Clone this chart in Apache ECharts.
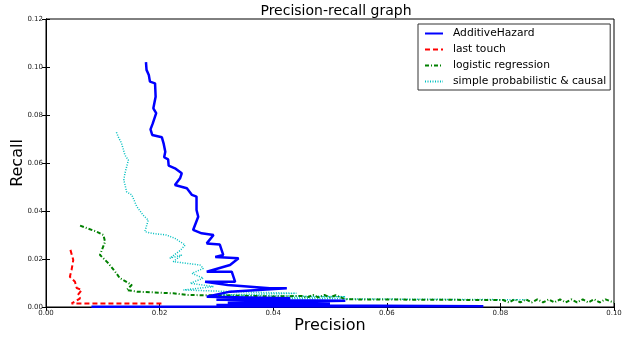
<!DOCTYPE html>
<html>
<head>
<meta charset="utf-8">
<script src="https://cdn.jsdelivr.net/npm/echarts@6/dist/echarts.min.js"></script>
<style>
html,body{margin:0;padding:0;background:#fff;}
#chart{width:636px;height:337px;}
</style>
</head>
<body>
<div id="chart"></div>
<script>
var seriesNames = ["AdditiveHazard", "last touch", "logistic regression", "simple probabilistic & causal"];
var xTicks = [0.00, 0.02, 0.04, 0.06, 0.08, 0.10];
var yTicks = [0.00, 0.02, 0.04, 0.06, 0.08, 0.10, 0.12];

// [precision, recall]
var additiveHazard = [
  [0.0176,0.1020],[0.0177,0.0988],[0.0181,0.0967],[0.0183,0.0939],[0.0192,0.0932],
  [0.0193,0.0876],[0.0189,0.0828],[0.0194,0.0808],[0.0188,0.0765],[0.0184,0.0740],
  [0.0187,0.0717],[0.0204,0.0707],[0.0207,0.0682],[0.0210,0.0647],[0.0208,0.0624],
  [0.0215,0.0615],[0.0216,0.0589],[0.0227,0.0578],[0.0239,0.0557],[0.0236,0.0536],
  [0.0227,0.0508],[0.0248,0.0495],[0.0257,0.0467],[0.0265,0.0460],[0.0265,0.0404],
  [0.0268,0.0376],[0.0259,0.0321],[0.0274,0.0307],[0.0295,0.0300],[0.0283,0.0265],
  [0.0306,0.0260],[0.0312,0.0217],[0.0298,0.0208],[0.0339,0.0203],[0.0324,0.0175],
  [0.0283,0.0147],[0.0327,0.0147],[0.0333,0.0105],[0.0280,0.0105],[0.0320,0.0092],
  [0.0394,0.0078],[0.0424,0.0078],[0.0324,0.0064],[0.0283,0.0043],[0.0430,0.0036],
  [0.0300,0.0030],[0.0527,0.0026],[0.0320,0.0018],[0.0500,0.0014],[0.0300,0.0008],
  [0.0770,0.0003],[0.0080,0.0001]
];
var lastTouch = [
  [0.0043,0.0238],[0.0048,0.0196],[0.0045,0.0154],[0.0042,0.0126],[0.0051,0.0105],
  [0.0054,0.0079],[0.0063,0.0071],[0.0056,0.0050],[0.0060,0.0036],[0.0051,0.0022],
  [0.0045,0.0015],[0.0206,0.0015]
];
var logisticRegression = [
  [0.0060,0.0339],[0.0089,0.0314],[0.0101,0.0300],[0.0104,0.0272],[0.0095,0.0217],
  [0.0110,0.0182],[0.0124,0.0140],[0.0130,0.0120],[0.0151,0.0092],[0.0142,0.0071],
  [0.0160,0.0064],[0.0224,0.0057],[0.0248,0.0050],[0.0320,0.0048],[0.0400,0.0044],
  [0.0450,0.0046],[0.0460,0.0040],[0.0470,0.0050],[0.0480,0.0040],[0.0490,0.0050],
  [0.0500,0.0040],[0.0510,0.0049],[0.0527,0.0032],[0.0690,0.0030],[0.0805,0.0029],
  [0.0815,0.0019],[0.0825,0.0032],[0.0835,0.0019],[0.0845,0.0032],[0.0855,0.0019],
  [0.0865,0.0032],[0.0875,0.0019],[0.0885,0.0032],[0.0895,0.0019],[0.0905,0.0032],
  [0.0915,0.0019],[0.0925,0.0032],[0.0935,0.0019],[0.0945,0.0032],[0.0955,0.0019],
  [0.0965,0.0032],[0.0975,0.0019],[0.0985,0.0032],[0.1000,0.0018]
];
var simpleProbCausal = [
  [0.0124,0.0728],[0.0127,0.0710],[0.0133,0.0682],[0.0139,0.0633],[0.0145,0.0612],
  [0.0139,0.0557],[0.0137,0.0529],[0.0142,0.0480],[0.0151,0.0467],[0.0160,0.0418],
  [0.0171,0.0383],[0.0180,0.0362],[0.0174,0.0314],[0.0186,0.0307],[0.0212,0.0300],
  [0.0227,0.0286],[0.0245,0.0258],[0.0236,0.0235],[0.0218,0.0203],[0.0239,0.0217],
  [0.0224,0.0189],[0.0271,0.0175],[0.0277,0.0161],[0.0257,0.0140],[0.0277,0.0120],
  [0.0254,0.0099],[0.0295,0.0085],[0.0242,0.0071],[0.0330,0.0064],[0.0441,0.0057],
  [0.0300,0.0050],[0.0527,0.0043],[0.0350,0.0036],[0.0600,0.0033],[0.0850,0.0030]
];

var colors = ["#0000ff", "#ff0000", "#008000", "#00bfbf"];
var widths = [2.5, 2, 2, 1.5];
var dashes = ["solid", [5,3], [4,2,1,2], [1,1.5]];
var datasets = [additiveHazard, lastTouch, logisticRegression, simpleProbCausal];

var chart = echarts.init(document.getElementById('chart'), null, {renderer:'canvas'});
var FONT = 'DejaVu Sans';

var series = datasets.map(function(d, i){
  return {
    name: seriesNames[i],
    type: 'line',
    data: d,
    symbol: 'none',
    showSymbol: false,
    smooth: false,
    clip: true,
    animation: false,
    lineStyle: {color: colors[i], width: widths[i], type: dashes[i]},
    itemStyle: {color: colors[i]},
    z: 10 - i
  };
});

var fmt = function(v){ return v.toFixed(2); };

chart.setOption({
  animation: false,
  backgroundColor: '#fff',
  title: {
    text: 'Precision-recall graph',
    left: 331, top: -1, textAlign: 'center',
    textStyle: {fontFamily: FONT, fontSize: 14, fontWeight: 'normal', color: '#000'}
  },
  grid: {left: 46, right: 22, top: 19, bottom: 30, containLabel: false, outerBoundsMode: 'none',
         show: true, borderColor: '#000', borderWidth: 1, backgroundColor: 'transparent'},
  legend: {
    orient: 'vertical', left: 418, top: 24,
    data: seriesNames,
    itemWidth: 18, itemHeight: 12, itemGap: 5,
    padding: [4, 4, 3, 6],
    borderColor: '#333', borderWidth: 1, backgroundColor: '#fff',
    itemStyle: {opacity: 0, borderWidth: 0},
    textStyle: {fontFamily: FONT, fontSize: 10.7, color: '#000', padding: [0,0,0,5]}
  },
  xAxis: [{
    type: 'value', min: xTicks[0], max: xTicks[xTicks.length-1], interval: 0.02,
    name: 'Precision', nameLocation: 'middle', nameGap: 11, nameMoveOverlap: false,
    nameTextStyle: {fontFamily: FONT, fontSize: 16, color: '#000'},
    axisLine: {show: true, lineStyle: {color: '#000', width: 1}},
    axisTick: {show: true, inside: true, length: 4, lineStyle: {color: '#000'}},
    axisLabel: {fontFamily: FONT, fontSize: 7, color: '#222', margin: 3, formatter: fmt},
    splitLine: {show: false}
  }, {
    type: 'value', position: 'top', min: xTicks[0], max: xTicks[xTicks.length-1], interval: 0.02,
    axisLine: {show: true, lineStyle: {color: '#000'}},
    axisTick: {show: true, inside: true, length: 4, lineStyle: {color: '#000'}},
    axisLabel: {show: false}, splitLine: {show: false}
  }],
  yAxis: [{
    type: 'value', min: yTicks[0], max: yTicks[yTicks.length-1], interval: 0.02,
    name: 'Recall', nameLocation: 'middle', nameGap: 20, nameRotate: 90, nameMoveOverlap: false,
    nameTextStyle: {fontFamily: FONT, fontSize: 16, color: '#000'},
    axisLine: {show: true, lineStyle: {color: '#000', width: 1}},
    axisTick: {show: true, inside: true, length: 4, lineStyle: {color: '#000'}},
    axisLabel: {fontFamily: FONT, fontSize: 7, color: '#222', margin: 3, formatter: fmt},
    splitLine: {show: false}
  }, {
    type: 'value', position: 'right', min: yTicks[0], max: yTicks[yTicks.length-1], interval: 0.02,
    axisLine: {show: true, lineStyle: {color: '#000'}},
    axisTick: {show: true, inside: true, length: 4, lineStyle: {color: '#000'}},
    axisLabel: {show: false}, splitLine: {show: false}
  }],
  series: series
});
</script>
</body>
</html>
